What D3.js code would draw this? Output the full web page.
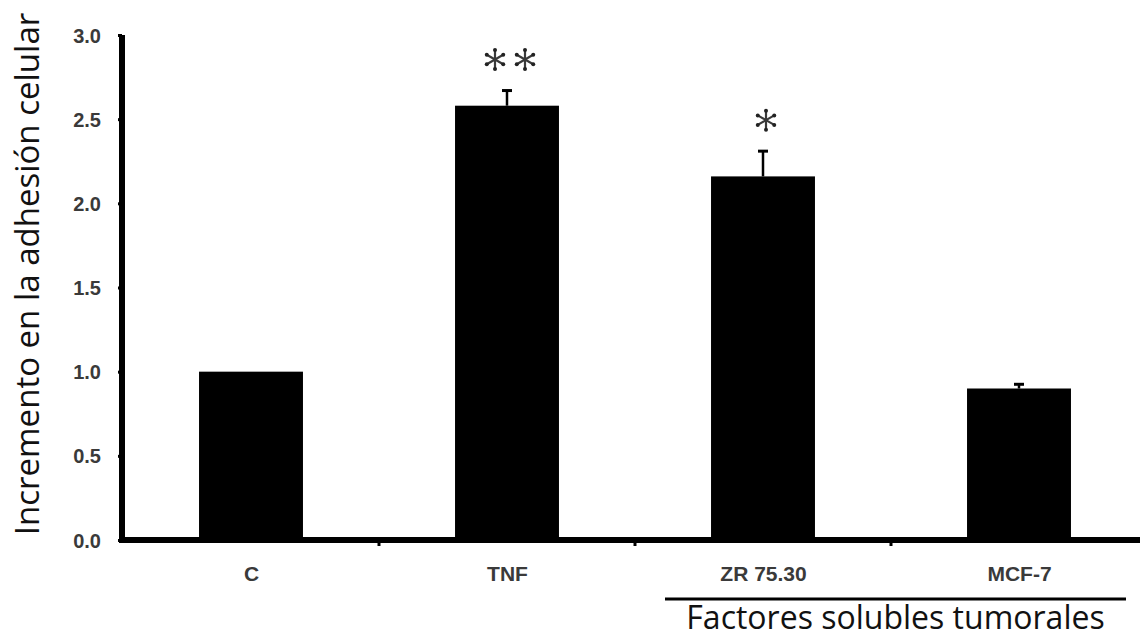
<!DOCTYPE html>
<html><head><meta charset="utf-8">
<script src="https://cdn.jsdelivr.net/npm/d3@7"></script>
<style>body{margin:0;background:#fff}svg{display:block}</style>
</head><body>
<svg id="c" width="1140" height="637"></svg>
<script>
const categories = ["C", "TNF", "ZR 75.30", "MCF-7"];
const values = [1.0, 2.58, 2.16, 0.90];
const errors = [0.0, 0.09, 0.15, 0.025];
const starCounts = [0, 2, 1, 0];
const yTicks = [0, 0.5, 1.0, 1.5, 2.0, 2.5, 3.0];
const yTitle = "Incremento en la adhesión celular";
const groupLabel = "Factores solubles tumorales";
const groupCats = ["ZR 75.30", "MCF-7"];

const svg = d3.select("#c");
const x = d3.scalePoint().domain(categories).range([123, 1147]).padding(0.5);
const y = d3.scaleLinear().domain([0, 3]).range([540, 35]);
const step = x.step();
const bw = step * 0.406;

// bars
svg.selectAll("rect.bar").data(categories).join("rect")
  .attr("x", d => x(d) - bw / 2)
  .attr("y", (d, i) => y(values[i]))
  .attr("width", bw)
  .attr("height", (d, i) => y(0) - y(values[i]))
  .attr("fill", "#000");

// error bars
categories.forEach((c, i) => {
  if (errors[i] <= 0) return;
  const cx = x(c);
  svg.append("line").attr("x1", cx).attr("x2", cx)
    .attr("y1", y(values[i])).attr("y2", y(values[i] + errors[i]))
    .attr("stroke", "#000").attr("stroke-width", 2.5);
  svg.append("line").attr("x1", cx - 5).attr("x2", cx + 5)
    .attr("y1", y(values[i] + errors[i])).attr("y2", y(values[i] + errors[i]))
    .attr("stroke", "#000").attr("stroke-width", 3);
});

// significance asterisks (6-spoke, dotted ends)
function star(g, cx, cy) {
  const r = 9.5;
  for (let k = 0; k < 6; k++) {
    const a = (30 + 60 * k) * Math.PI / 180;
    g.append("line").attr("x1", cx).attr("y1", cy)
      .attr("x2", cx + r * Math.cos(a)).attr("y2", cy - r * Math.sin(a))
      .attr("stroke", "#3a3a3a").attr("stroke-width", 2.2).attr("stroke-linecap", "round");
    g.append("circle").attr("cx", cx + r * Math.cos(a)).attr("cy", cy - r * Math.sin(a))
      .attr("r", 2).attr("fill", "#222");
  }
}
const gs = svg.append("g");
categories.forEach((c, i) => {
  const n = starCounts[i];
  if (!n) return;
  const cy = y(values[i] + errors[i]) - 31;
  for (let k = 0; k < n; k++) {
    star(gs, x(c) + (k - (n - 1) / 2) * 30 + 3, cy);
  }
});

// y axis
const yAxis = d3.axisLeft(y).tickValues(yTicks).tickFormat(d3.format(".1f")).tickSize(4).tickPadding(17);
const gy = svg.append("g").attr("transform", "translate(122,0)").call(yAxis);
gy.select(".domain").attr("stroke", "#000").attr("stroke-width", 6).attr("d", `M0,${y(3)}V${y(0)+3}`);
gy.selectAll(".tick line").attr("stroke", "#000").attr("stroke-width", 3);
gy.selectAll(".tick text").attr("font-family", "Liberation Sans, Arial, sans-serif")
  .attr("font-size", 20).attr("font-weight", "bold").attr("fill", "#3a3a3a").attr("dy", "0.35em");

// x axis
const bounds = categories.map(c => x(c) + step / 2);
const xAxis = d3.axisBottom(x).tickSize(0);
const gx = svg.append("g").attr("transform", "translate(0,540)").call(xAxis);
gx.select(".domain").attr("stroke", "#000").attr("stroke-width", 6).attr("d", "M119,0H1140");
gx.selectAll(".tick text").attr("font-family", "Liberation Sans, Arial, sans-serif")
  .attr("font-size", 21).attr("font-weight", "bold").attr("fill", "#3a3a3a")
  .attr("y", 41).attr("dy", 0);
gx.selectAll("line.div").data(bounds).join("line")
  .attr("x1", d => d).attr("x2", d => d).attr("y1", 0).attr("y2", 6)
  .attr("stroke", "#000").attr("stroke-width", 3);

// group bracket
const gx0 = x(groupCats[0]) - 98, gx1 = x(groupCats[1]) + 107;
svg.append("line").attr("x1", gx0).attr("x2", gx1).attr("y1", 599).attr("y2", 599)
  .attr("stroke", "#000").attr("stroke-width", 3);
svg.append("text").attr("x", (gx0 + gx1) / 2).attr("y", 629)
  .attr("text-anchor", "middle").attr("font-family", "Open Sans, sans-serif")
  .attr("font-size", 32).attr("fill", "#111").text(groupLabel);

// y title
svg.append("text").attr("transform", `translate(39,${(13 + 535) / 2}) rotate(-90)`)
  .attr("text-anchor", "middle")
  .attr("font-family", "Open Sans, sans-serif").attr("font-size", 33).attr("fill", "#111")
  .text(yTitle);
</script>
</body></html>
